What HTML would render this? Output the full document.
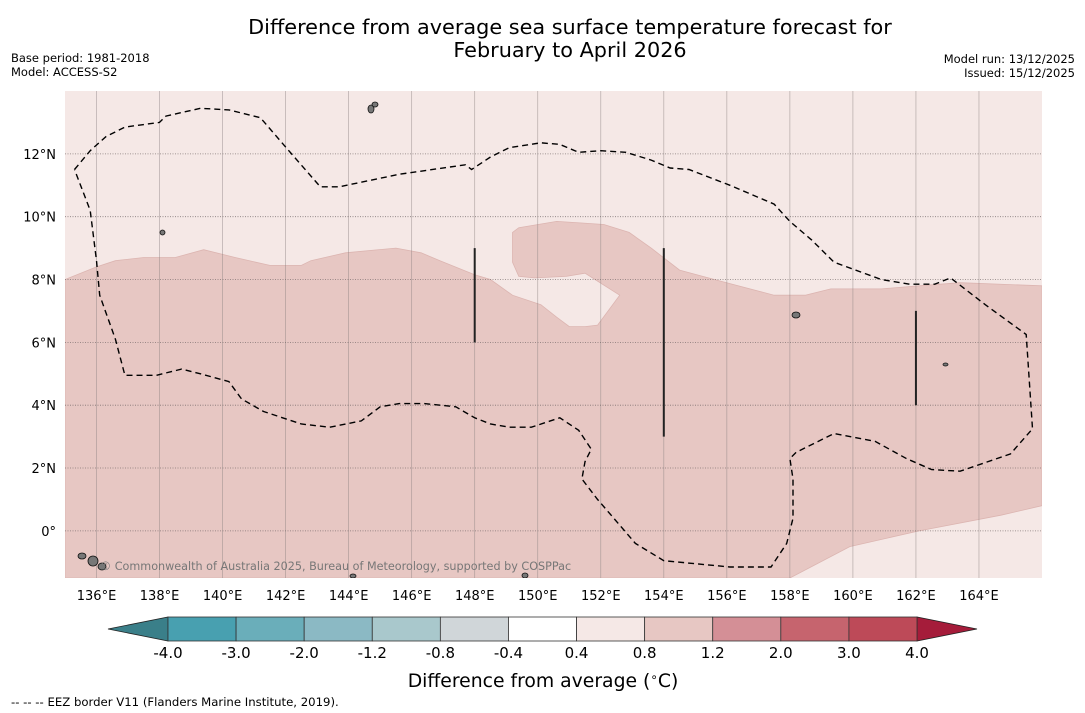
<!DOCTYPE html>
<html><head><meta charset="utf-8">
<style>
body{margin:0;background:#fff;width:1085px;height:713px;overflow:hidden;font-family:"DejaVu Sans","Liberation Sans",sans-serif}
svg{position:absolute;left:0;top:0}
</style></head>
<body>
<svg id="chart" width="1085" height="713" viewBox="0 0 1085 713" xmlns="http://www.w3.org/2000/svg">
  <text x="570" y="34" font-size="20.8" text-anchor="middle" fill="#000">Difference from average sea surface temperature forecast for</text>
  <text x="570" y="57" font-size="20.8" text-anchor="middle" fill="#000">February to April 2026</text>
  <text x="11" y="62" font-size="11.5">Base period: 1981-2018</text>
  <text x="11" y="76" font-size="11.5">Model: ACCESS-S2</text>
  <text x="1075" y="63" font-size="11.5" text-anchor="end">Model run: 13/12/2025</text>
  <text x="1075" y="77" font-size="11.5" text-anchor="end">Issued: 15/12/2025</text>
  <defs><clipPath id="mapclip"><rect x="65" y="91" width="977" height="487"/></clipPath></defs>
  <g id="map" clip-path="url(#mapclip)"></g>
  <g id="axes"></g>
  <g id="cbar"></g>
  <text x="543" y="687" font-size="18.8" text-anchor="middle">Difference from average (<tspan font-size="12" dy="-6">∘</tspan><tspan dy="6">C)</tspan></text>
  <text x="11" y="706" font-size="11.7">--  --  -- EEZ border V11 (Flanders Marine Institute, 2019).</text>
</svg>
<script>
// Map extent and ticks
const lonTicks=[136,138,140,142,144,146,148,150,152,154,156,158,160,162,164];
const latTicks=[0,2,4,6,8,10,12];
const latLabels=["0°","2°N","4°N","6°N","8°N","10°N","12°N"];
// Anomaly category 0.8-1.2 region (lon,lat)
const warmRegion=[[135,8.0],[136,8.4],[136.6,8.6],[137.5,8.7],[138.5,8.7],[139.4,8.95],[140.4,8.7],[141.5,8.45],[142.5,8.45],[142.8,8.6],[143.9,8.85],[145.5,9.0],[146.3,8.85],[146.9,8.6],[148,8.15],[148.5,8.0],[149.2,7.5],[150.1,7.2],[150.6,6.8],[151,6.5],[151.5,6.5],[151.9,6.55],[152.6,7.5],[151.5,8.2],[150.9,8.1],[149.9,8.05],[149.4,8.1],[149.2,8.55],[149.2,9.5],[149.4,9.65],[150.6,9.85],[151.4,9.8],[152.1,9.75],[152.9,9.5],[153.6,9.0],[154.5,8.3],[155.8,7.95],[157.5,7.5],[158.5,7.5],[159.3,7.7],[160.9,7.7],[162.1,7.8],[163.4,7.9],[166,7.8],[166,0.8],[164.7,0.5],[162.1,0],[159.9,-0.5],[158,-1.5],[135,-1.5]];
// EEZ border (dashed)
const eez=[[135.3,11.5],[135.8,12.1],[136.3,12.55],[136.9,12.85],[138,13.0],[138.2,13.2],[139.3,13.45],[140.2,13.4],[141.2,13.15],[142.1,12.1],[143.1,10.95],[143.7,10.95],[145.6,11.35],[147.7,11.65],[147.9,11.5],[148.5,11.9],[149.1,12.2],[150.1,12.35],[150.7,12.3],[151.3,12.05],[152,12.1],[152.8,12.05],[153.6,11.8],[154.2,11.55],[154.8,11.5],[156.1,11.0],[157.5,10.4],[158,9.85],[158.7,9.25],[159.4,8.55],[160.9,8.0],[161.8,7.85],[162.6,7.85],[163.1,8.05],[164.2,7.2],[165.5,6.25],[165.7,3.25],[165,2.45],[163.4,1.9],[162.5,1.95],[161.7,2.3],[160.7,2.85],[159.4,3.1],[159,2.9],[158.2,2.5],[158,2.3],[158.1,1.65],[158.1,0.4],[157.9,-0.4],[157.4,-1.15],[156.1,-1.15],[154,-0.95],[153.1,-0.4],[152.5,0.3],[151.9,1.0],[151.4,1.65],[151.5,2.2],[151.7,2.6],[151.3,3.2],[150.7,3.6],[149.8,3.3],[149.1,3.3],[148.5,3.4],[148,3.6],[147.4,3.95],[146.4,4.05],[145.6,4.05],[145,3.95],[144.4,3.5],[143.4,3.3],[142.5,3.4],[141.3,3.8],[140.6,4.2],[140.2,4.75],[139.3,5.0],[138.7,5.15],[137.9,4.95],[136.9,4.95],[136.6,6.1],[136.1,7.5],[136,8.6],[135.8,10.2],[135.3,11.5]];
// Black segments (lon, lat1, lat2)
const segLon=[148,154,162];
const segLat1=[9,9,7];
const segLat2=[6,3,4];
// Colorbar
const cbLevels=["-4.0","-3.0","-2.0","-1.2","-0.8","-0.4","0.4","0.8","1.2","2.0","3.0","4.0"];
const cbColors=["#48a0b0","#6aaeba","#8bb9c4","#a9c8cc","#d0d6d9","#ffffff","#f5e8e6","#e7c7c3","#d48f96","#c6646e","#bd4a58"];

const NS="http://www.w3.org/2000/svg";
const X0=65,X1=1042,Y0=91,Y1=578,LON0=135,LON1=166,LAT0=-1.5,LAT1=14;
const xs=lon=>X0+(lon-LON0)/(LON1-LON0)*(X1-X0);
const ys=lat=>Y1-(lat-LAT0)/(LAT1-LAT0)*(Y1-Y0);
function mk(tag,attrs,parent){const e=document.createElementNS(NS,tag);for(const k in attrs)e.setAttribute(k,attrs[k]);parent.appendChild(e);return e;}
const map=document.getElementById('map'),axes=document.getElementById('axes'),cbar=document.getElementById('cbar');
const pts=a=>a.map(p=>xs(p[0]).toFixed(1)+","+ys(p[1]).toFixed(1)).join(" ");

let bg=mk('rect',{x:X0,y:Y0,width:X1-X0,height:Y1-Y0,fill:'#f5e8e6'},map);


let wr=mk('polygon',{points:pts(warmRegion),fill:'#e7c7c3',stroke:'#dcb5b1','stroke-width':0.8},map);


lonTicks.forEach(l=>{let g=mk('line',{x1:xs(l),x2:xs(l),y1:Y0,y2:Y1,stroke:'#8a8080','stroke-width':0.7,'stroke-opacity':0.6},map);

});
latTicks.forEach(l=>{let g=mk('line',{x1:X0,x2:X1,y1:ys(l),y2:ys(l),stroke:'#6a6060','stroke-width':0.8,'stroke-dasharray':'1,1.5','stroke-opacity':0.8},map);

});
segLon.forEach((l,i)=>{let s=mk('line',{x1:xs(l),x2:xs(l),y1:ys(segLat1[i]),y2:ys(segLat2[i]),stroke:'#222','stroke-width':2},map);

});
let ez=mk('polyline',{points:pts(eez),fill:'none',stroke:'#000','stroke-width':1.4,'stroke-dasharray':'6,4'},map);


// small islands
[[78,553,86,559],[88,556,98,566],[98,563,106,570],[368,105,374,113],[372,102,378,107],[792,312,800,318],[522,573,528,578],[350,574,356,578],[160,230,165,235],[943,363,948,366]].forEach(b=>{let r=mk('ellipse',{cx:(b[0]+b[2])/2,cy:(b[1]+b[3])/2,rx:(b[2]-b[0])/2,ry:(b[3]-b[1])/2,fill:'#777',stroke:'#111','stroke-width':0.8},map);

});
let wm=mk('text',{x:100,y:570,'font-size':11.2,fill:'#777'},map);
wm.textContent="© Commonwealth of Australia 2025, Bureau of Meteorology, supported by COSPPac";



lonTicks.forEach(l=>{let t=mk('text',{x:xs(l),y:600,'font-size':13,'text-anchor':'middle'},axes);t.textContent=l+"°E";

});
latTicks.forEach((l,i)=>{let t=mk('text',{x:56,y:ys(l)+5,'font-size':13,'text-anchor':'end'},axes);t.textContent=latLabels[i];

});

const CX0=168,CX1=917,CY0=617,CY1=641,n=cbColors.length,w=(CX1-CX0)/n;
let tl=mk('polygon',{points:`108,629 ${CX0},${CY0} ${CX0},${CY1}`,fill:'#3a7f89',stroke:'#222','stroke-width':0.8},cbar);


let tr=mk('polygon',{points:`977,629 ${CX1},${CY0} ${CX1},${CY1}`,fill:'#a51c3a',stroke:'#222','stroke-width':0.8},cbar);


cbColors.forEach((c,i)=>{let r=mk('rect',{x:CX0+i*w,y:CY0,width:w,height:CY1-CY0,fill:c,stroke:'#333','stroke-width':0.8},cbar);

});
cbLevels.forEach((v,i)=>{let t=mk('text',{x:CX0+i*w,y:658,'font-size':15,'text-anchor':'middle'},cbar);t.textContent=v;

});
</script>
</body></html>
